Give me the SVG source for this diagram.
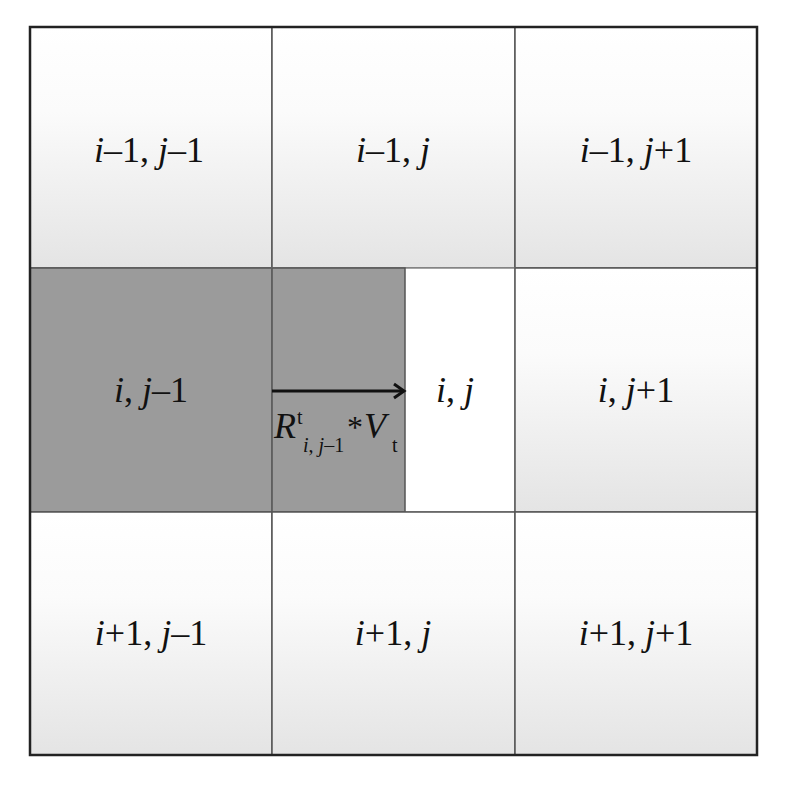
<svg xmlns="http://www.w3.org/2000/svg" width="805" height="789" viewBox="0 0 805 789">
<defs>
<linearGradient id="cellGrad" x1="0" y1="0" x2="0" y2="1">
<stop offset="0" stop-color="#ffffff"/>
<stop offset="0.35" stop-color="#fbfbfb"/>
<stop offset="1" stop-color="#e4e4e4"/>
</linearGradient>
<style>
.cell{fill:url(#cellGrad);stroke:#555;stroke-width:1.5}
.shade{fill:#9b9b9b;stroke:#555;stroke-width:1.5}
.lbl{font-family:"Liberation Serif","Times New Roman",serif;font-size:36px;fill:#111;text-anchor:middle}
.it{font-style:italic}
.sub{font-family:"Liberation Serif","Times New Roman",serif;font-size:20px;fill:#111}
.big{font-family:"Liberation Serif","Times New Roman",serif;font-size:36px;fill:#111}
.star{font-family:"Liberation Serif","Times New Roman",serif;font-size:32px;fill:#111}
.arrow{stroke:#111;stroke-width:3;fill:none}
</style>
</defs>
<rect width="805" height="789" fill="#ffffff"/>
<g id="cell-im1-jm1"><rect class="cell" x="30" y="27" width="242" height="241"/><text class="lbl" x="149" y="162"><tspan class="it">i</tspan>–1, <tspan class="it">j</tspan>–1</text></g>
<g id="cell-im1-j"><rect class="cell" x="272" y="27" width="243" height="241"/><text class="lbl" x="393" y="162"><tspan class="it">i</tspan>–1, <tspan class="it">j</tspan></text></g>
<g id="cell-im1-jp1"><rect class="cell" x="515" y="27" width="242" height="241"/><text class="lbl" x="636" y="162"><tspan class="it">i</tspan>–1, <tspan class="it">j</tspan>+1</text></g>
<g id="cell-i-jm1"><rect class="shade" x="30" y="268" width="242" height="244"/><text class="lbl" x="151" y="402"><tspan class="it">i</tspan>, <tspan class="it">j</tspan>–1</text></g>
<g id="cell-i-j"><rect x="272" y="268" width="243" height="244" fill="#ffffff" stroke="#888" stroke-width="1.5"/><rect class="shade" x="272" y="268" width="133" height="244"/><text class="lbl" x="455" y="402"><tspan class="it">i</tspan>, <tspan class="it">j</tspan></text></g>
<g id="cell-i-jp1"><rect class="cell" x="515" y="268" width="242" height="244"/><text class="lbl" x="636" y="402"><tspan class="it">i</tspan>, <tspan class="it">j</tspan>+1</text></g>
<g id="cell-ip1-jm1"><rect class="cell" x="30" y="512" width="242" height="243"/><text class="lbl" x="151" y="645"><tspan class="it">i</tspan>+1, <tspan class="it">j</tspan>–1</text></g>
<g id="cell-ip1-j"><rect class="cell" x="272" y="512" width="243" height="243"/><text class="lbl" x="393" y="645"><tspan class="it">i</tspan>+1, <tspan class="it">j</tspan></text></g>
<g id="cell-ip1-jp1"><rect class="cell" x="515" y="512" width="242" height="243"/><text class="lbl" x="636" y="645"><tspan class="it">i</tspan>+1, <tspan class="it">j</tspan>+1</text></g>
<rect x="30" y="27" width="727" height="728" fill="none" stroke="#222" stroke-width="2.5"/>
<g id="connectors">
<path class="arrow" d="M272 391 H403"/>
<path class="arrow" d="M394 384 L404 391 L394 398"/>
</g>
<g id="flow-label">
<text class="big" x="274" y="438" font-style="italic">R</text>
<text class="sub" x="297" y="424">t</text>
<text class="sub" x="303" y="452"><tspan font-style="italic">i</tspan>, <tspan font-style="italic">j</tspan>–1</text>
<text class="star" x="347" y="438">*</text>
<text class="big" x="364" y="438" font-style="italic">V</text>
<text class="sub" x="392" y="452">t</text>
</g>
</svg>
